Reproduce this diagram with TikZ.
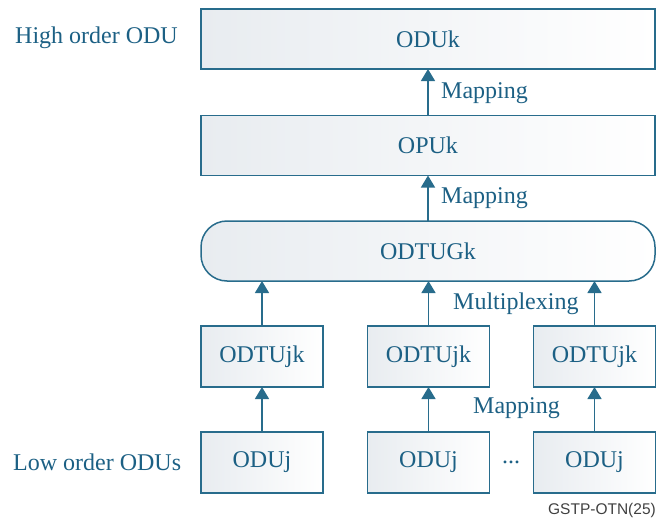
\documentclass[tikz,border=0pt]{standalone}
\usepackage{fontspec}
\setmainfont{Liberation Serif}
\newfontfamily\tagfont{Liberation Sans}
\usetikzlibrary{arrows.meta}
\definecolor{edge}{RGB}{40,108,140}
\definecolor{ink}{RGB}{28,96,132}
\definecolor{shadeL}{RGB}{232,236,240}
\tikzset{
  box/.style={draw=edge, line width=1.5pt, left color=shadeL, right color=white,
    inner sep=0pt, outer sep=0pt, text=ink, font=\fontsize{24}{27}\selectfont},
  bigbox/.style={box, minimum width=454pt, minimum height=60pt},
  smallbox/.style={box, minimum width=122pt, minimum height=61pt},
  pill/.style={bigbox, rounded corners=26pt},
  arr/.style={draw=edge, line width=1.5pt, -{Triangle[width=14pt,length=12pt]}},
  lbl/.style={text=ink, font=\fontsize{24}{27}\selectfont, inner sep=0pt},
}
\begin{document}
\begin{tikzpicture}[x=1pt,y=-1pt]
\useasboundingbox (0,0) rectangle (656,522);

% higher layers
\node[bigbox] (oduk) at (428,39) {ODUk};
\node[bigbox] (opuk) at (428,145.5) {OPUk};
\node[pill]   (odtug) at (428,251) {ODTUGk};

% tributary units
\node[smallbox] (t1) at (262,356.5) {ODTUjk};
\node[smallbox] (t2) at (428.5,356.5) {ODTUjk};
\node[smallbox] (t3) at (594.5,356.5) {ODTUjk};

% low order ODUs
\node[smallbox] (j1) at (262,462.5) {ODUj};
\node[smallbox] (j2) at (428.5,462.5) {ODUj};
\node[smallbox] (j3) at (594.5,462.5) {ODUj};

% connectors
\draw[arr] (opuk.north) -- (oduk.south);
\draw[arr] (odtug.north) -- (opuk.south);
\draw[arr] (t1.north) -- (t1.north |- odtug.south);
\draw[arr] (t2.north) -- (t2.north |- odtug.south);
\draw[arr] (t3.north) -- (t3.north |- odtug.south);
\draw[arr] (j1.north) -- (t1.south);
\draw[arr] (j2.north) -- (t2.south);
\draw[arr] (j3.north) -- (t3.south);

% labels
\node[lbl, anchor=west] (m1) at (441,93) {Mapping};
\node[lbl, anchor=west] (m2) at (441,198) {Mapping};
\node[lbl, anchor=west] (mx) at (453,304) {Multiplexing};
\node[lbl, anchor=west] (m3) at (473,408) {Mapping};
\node[lbl] (dots) at (511,462) {...};
\node[lbl, anchor=west] (hi) at (15,38) {High order ODU};
\node[lbl, anchor=west] (lo) at (13,462) {Low order ODUs};
\node[anchor=east, inner sep=0pt, text=black!75, font=\tagfont\fontsize{15.5}{17}\selectfont] (tag) at (656,510) {GSTP-OTN(25)};
\end{tikzpicture}
\end{document}
